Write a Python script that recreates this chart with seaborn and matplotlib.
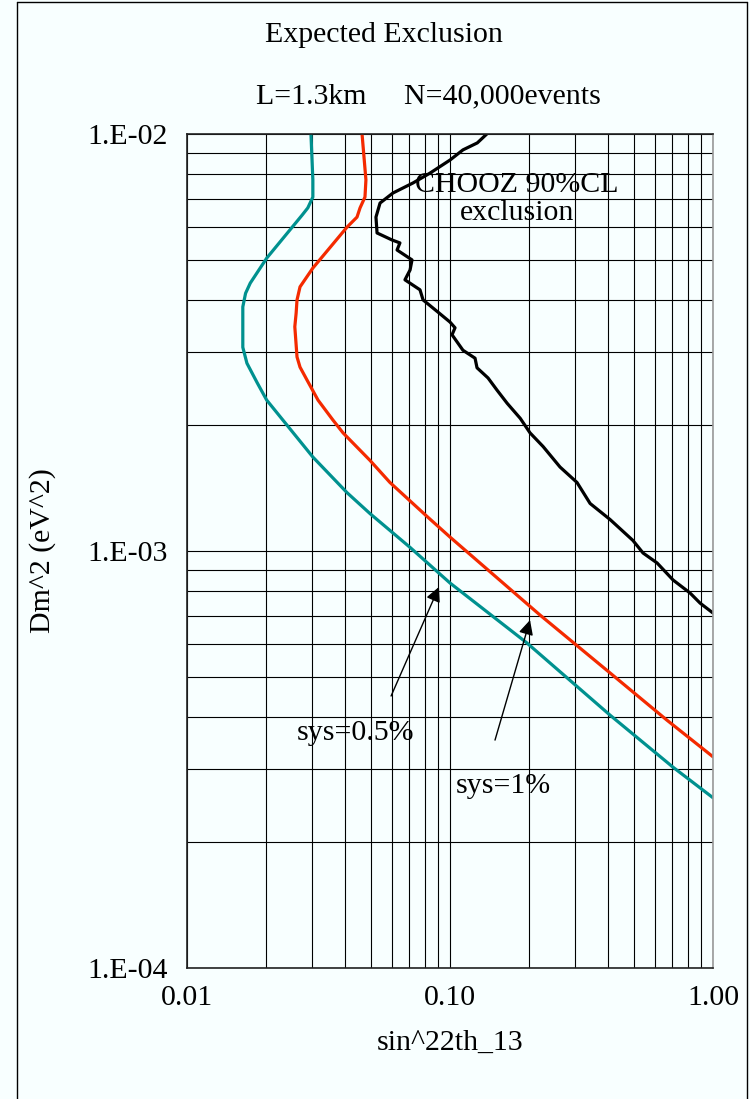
import matplotlib
matplotlib.use("Agg")
import matplotlib.pyplot as plt
import matplotlib.ticker as mticker
import pandas as pd
import seaborn as sns

# sys = 0.5% expected exclusion (teal)
sys05_x = [0.0296, 0.0301, 0.0301, 0.0288, 0.0274, 0.0201, 0.0174, 0.0167, 0.0163, 0.0163, 0.0169,
           0.0185, 0.0201, 0.0301, 0.0406, 0.0496, 0.0705, 0.100, 0.196, 0.406, 0.705, 1.00]
sys05_y = [0.0100, 0.00776, 0.00706, 0.00665, 0.00639, 0.00504, 0.00439, 0.00415, 0.00385, 0.00308, 0.00282,
           0.00253, 0.00230, 0.00168, 0.00138, 0.00123, 0.00102, 0.000838, 0.000602, 0.000404, 0.000303,
           0.000256]

# sys = 1% expected exclusion (red)
sys1_x = [0.0463, 0.0479, 0.0475, 0.0455, 0.0443, 0.0406, 0.0301, 0.0269, 0.0262, 0.0260, 0.0257,
          0.0262, 0.0269, 0.0286, 0.0315, 0.0359, 0.0392, 0.0496, 0.0591, 0.0818, 0.100, 0.220, 0.406,
          0.668, 1.00]
sys1_y = [0.0100, 0.00776, 0.00706, 0.00665, 0.00632, 0.00598, 0.00477, 0.00430, 0.00400, 0.00372, 0.00345,
          0.00292, 0.00276, 0.00257, 0.00230, 0.00206, 0.00192, 0.00165, 0.00146, 0.00121, 0.00108,
          0.000702, 0.000510, 0.000393, 0.000321]

# CHOOZ 90% CL exclusion (black)
chooz_x = [0.138, 0.127, 0.112, 0.100, 0.0840, 0.0723, 0.0607, 0.0542, 0.0523, 0.0528, 0.0602,
           0.0645, 0.0629, 0.0717, 0.0705, 0.0674, 0.0769, 0.0790, 0.0900, 0.100, 0.1045, 0.1018,
           0.112, 0.1245, 0.1267, 0.1395, 0.151, 0.165, 0.185, 0.2015, 0.226, 0.262, 0.304, 0.341,
           0.406, 0.496, 0.542, 0.613, 0.705, 0.818, 0.893, 1.00]
chooz_y = [0.0100, 0.00952, 0.00916, 0.00866, 0.00806, 0.00763, 0.00722, 0.00683, 0.00632, 0.00579,
           0.00557, 0.00548, 0.00527, 0.00499, 0.00472, 0.00447, 0.00423, 0.00400, 0.00374, 0.00354,
           0.00343, 0.00330, 0.00303, 0.00290, 0.00275, 0.00260, 0.00243, 0.00226, 0.00208, 0.00192,
           0.00178, 0.00159, 0.00146, 0.00130, 0.00119, 0.00106, 0.000989, 0.000936, 0.000852,
           0.000793, 0.000750, 0.000710]

x_ticks = [0.01, 0.1, 1.0]
x_tick_labels = ["0.01", "0.10", "1.00"]
y_ticks = [1e-4, 1e-3, 1e-2]
y_tick_labels = ["1.E-04", "1.E-03", "1.E-02"]

curves = pd.concat([
    pd.DataFrame({"s2": sys05_x, "dm2": sys05_y, "curve": "sys=0.5%"}),
    pd.DataFrame({"s2": sys1_x, "dm2": sys1_y, "curve": "sys=1%"}),
    pd.DataFrame({"s2": chooz_x, "dm2": chooz_y, "curve": "CHOOZ"}),
])
colors = {"sys=0.5%": "#00918f", "sys=1%": "#f42a00", "CHOOZ": "#000000"}

sns.set_style("white")
plt.rcParams["font.family"] = ["Liberation Serif", "DejaVu Serif"]
plt.rcParams["text.color"] = "black"
plt.rcParams["axes.labelcolor"] = "black"
plt.rcParams["xtick.color"] = "black"
plt.rcParams["ytick.color"] = "black"
bg = "#f8ffff"
fs = 21.5

fig = plt.figure(figsize=(7.5, 10.99), dpi=100, facecolor=bg)
ax = fig.add_axes([187 / 750, 131 / 1099, 526 / 750, 834 / 1099])
ax.set_facecolor(bg)

for name, grp in curves.groupby("curve", sort=False):
    sns.lineplot(data=grp, x="s2", y="dm2", sort=False, estimator=None,
                 color=colors[name], linewidth=2.3, ax=ax, legend=False,
                 solid_joinstyle="round", solid_capstyle="round")

ax.set_xscale("log")
ax.set_yscale("log")
ax.set_xlim(0.01, 1.0)
ax.set_ylim(1e-4, 1e-2)

ax.xaxis.set_major_locator(mticker.FixedLocator(x_ticks))
ax.xaxis.set_major_formatter(mticker.FixedFormatter(x_tick_labels))
ax.yaxis.set_major_locator(mticker.FixedLocator(y_ticks))
ax.yaxis.set_major_formatter(mticker.FixedFormatter(y_tick_labels))
ax.xaxis.set_minor_locator(mticker.LogLocator(base=10, subs=range(2, 10)))
ax.yaxis.set_minor_locator(mticker.LogLocator(base=10, subs=range(2, 10)))
ax.xaxis.set_minor_formatter(mticker.NullFormatter())
ax.yaxis.set_minor_formatter(mticker.NullFormatter())
ax.grid(True, which="both", color="black", linewidth=0.8)
ax.set_axisbelow(True)
ax.tick_params(which="major", direction="in", length=5, width=1.2, labelsize=fs)
ax.tick_params(axis="y", which="major", pad=14)
ax.tick_params(axis="x", which="major", pad=12)
ax.tick_params(which="minor", length=0)

for side in ["left", "bottom", "top"]:
    ax.spines[side].set_color("#222222")
    ax.spines[side].set_linewidth(1.2)
ax.spines["right"].set_color("#999999")
ax.spines["right"].set_linewidth(1.2)

ax.set_xlabel("sin^22th_13", fontsize=fs, labelpad=14)
ax.set_ylabel("Dm^2 (eV^2)", fontsize=fs, labelpad=22)

# titles
fig.text(384 / 750, 1 - 35 / 1099, "Expected Exclusion", ha="center", va="center", fontsize=fs)
fig.text(428 / 750, 1 - 96 / 1099, "L=1.3km     N=40,000events", ha="center", va="center", fontsize=fs)

# annotations
ax.text(0.1798, 0.00726, "CHOOZ 90%CL", ha="center", va="baseline", fontsize=fs)
ax.text(0.1798, 0.00622, "exclusion", ha="center", va="baseline", fontsize=fs)
ax.text(0.0439, 0.000352, "sys=0.5%", ha="center", va="baseline", fontsize=fs)
ax.text(0.159, 0.000263, "sys=1%", ha="center", va="baseline", fontsize=fs)

arrow = dict(arrowstyle="-|>", color="black", lw=1.0, mutation_scale=22, shrinkA=0, shrinkB=0)
ax.annotate("", xy=(0.0908, 0.00082), xytext=(0.0597, 0.000449), arrowprops=arrow)
ax.annotate("", xy=(0.2015, 0.000683), xytext=(0.1483, 0.000352), arrowprops=arrow)

# page border
for xs, ys in [([17 / 750, 17 / 750], [0, 1 - 2 / 1099]),
               ([17 / 750, 747 / 750], [1 - 2 / 1099, 1 - 2 / 1099]),
               ([747 / 750, 747 / 750], [0, 1 - 2 / 1099])]:
    fig.add_artist(plt.Line2D(xs, ys, transform=fig.transFigure, color="black", lw=1.0))

fig.savefig("out.png", dpi=100, facecolor=bg)
